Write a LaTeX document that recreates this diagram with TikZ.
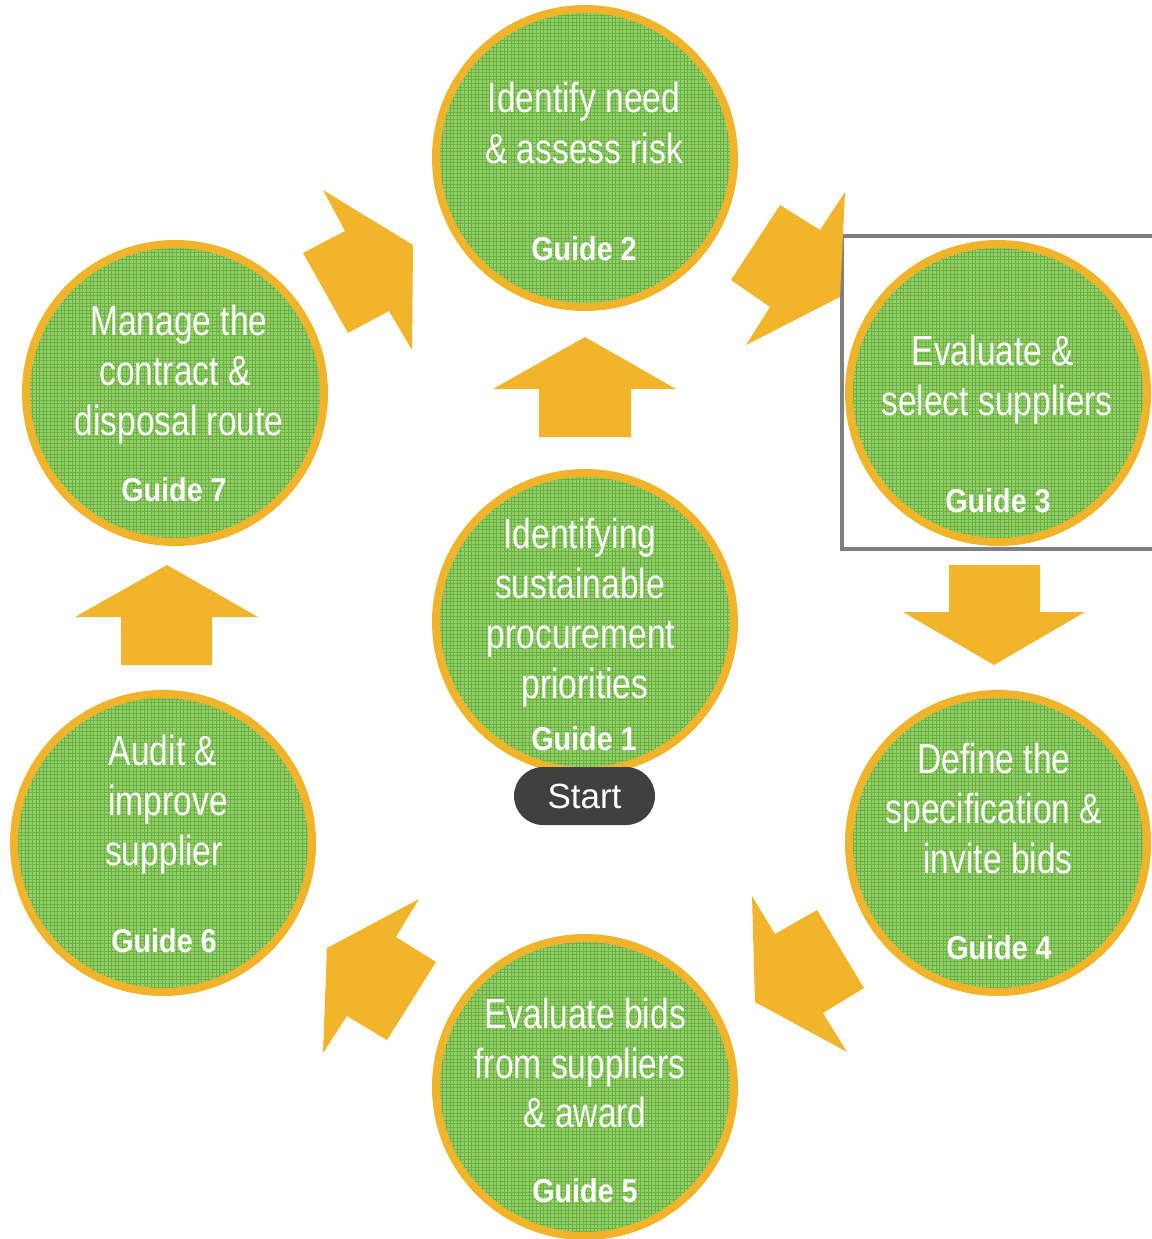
\documentclass[tikz,border=0pt]{standalone}
\usepackage{fontspec}
\usetikzlibrary{patterns.meta}
\newfontfamily\narrowfont[FakeStretch=0.80]{Liberation Sans}
\newfontfamily\guidefont[FakeStretch=0.87]{Liberation Sans}
\newfontfamily\pillfont{Liberation Sans}
\definecolor{ringc}{RGB}{240,179,41}
\definecolor{arrowc}{RGB}{241,180,42}
\definecolor{gbase}{RGB}{150,206,110}
\definecolor{gline}{RGB}{102,178,62}
\definecolor{framec}{RGB}{128,128,128}
\definecolor{pillc}{RGB}{64,64,64}
\tikzset{
  stage/.style={circle, minimum size=298pt, inner sep=0pt, draw=ringc, line width=8pt,
    preaction={fill=gbase},
    pattern={Hatch[distance=3.6pt,angle=0,line width=0.9pt]}, pattern color=gline},
  txt/.style={anchor=base, text=white, inner sep=0pt, font=\narrowfont\fontsize{42}{50}\selectfont},
  guide/.style={anchor=base, text=white, inner sep=0pt, font=\guidefont\bfseries\fontsize{33}{38}\selectfont},
  blockarrow/.style={fill=arrowc},
  startpill/.style={fill=pillc, rounded corners=29pt, minimum width=141pt, minimum height=58pt,
    inner sep=0pt, text=white, font=\pillfont\fontsize{35}{42}\selectfont},
  framebox/.style={draw=framec, line width=4pt}
}
\begin{document}
\begin{tikzpicture}[x=1pt,y=-1pt]
\useasboundingbox[fill=white] (0,0) rectangle (1151,1239);

% highlight frame around Guide 3
\draw[framebox] (1170,236) -- (842,236) -- (842,549) -- (1170,549);

% block arrows
\fill[blockarrow] (323,190) -- (345,231) -- (303,253) -- (348,333) -- (389,311) -- (412,350) -- (413,245) -- cycle;
\fill[blockarrow] (780,205) -- (820,230) -- (845,192) -- (840,297) -- (746,345) -- (770,307) -- (731,280) -- cycle;
\fill[blockarrow] (752,896) -- (775,934) -- (817,910) -- (864,988) -- (823,1013) -- (847,1052) -- (755,1002) -- cycle;
\fill[blockarrow] (419,899) -- (396,937) -- (436,962) -- (387,1040) -- (347,1016) -- (323,1053) -- (327,948) -- cycle;
\fill[blockarrow] (539,437) -- (539,389) -- (493,389) -- (585,337) -- (676,389) -- (631,389) -- (631,437) -- cycle;
\fill[blockarrow] (121,665) -- (121,617) -- (75,617) -- (167,565) -- (258,617) -- (212,617) -- (212,665) -- cycle;
\fill[blockarrow] (949,565) -- (1040,565) -- (1040,612) -- (1085,612) -- (994,665) -- (903,612) -- (949,612) -- cycle;

% stage circles
\node[stage] (g2) at (585,158) {};
\node[stage] (g3) at (998,393) {};
\node[stage] (g7) at (175,393) {};
\node[stage] (g1) at (585,622) {};
\node[stage] (g6) at (163,843) {};
\node[stage] (g4) at (998,843) {};
\node[stage] (g5) at (585,1087) {};

% Guide 2
\node[txt] (g2a) at (584,112) {Identify need};
\node[txt] (g2b) at (584,163) {\& assess risk};
\node[guide] (g2g) at (584,260) {Guide 2};
% Guide 3
\node[txt] (g3a) at (993,365) {Evaluate \&};
\node[txt] (g3b) at (997,415) {select suppliers};
\node[guide] (g3g) at (998,512) {Guide 3};
% Guide 7
\node[txt] (g7a) at (179,335) {Manage the};
\node[txt] (g7b) at (175,385) {contract \&};
\node[txt] (g7c) at (179,435) {disposal route};
\node[guide] (g7g) at (174,501) {Guide 7};
% Guide 1
\node[txt] (g1a) at (580,548) {Identifying};
\node[txt] (g1b) at (580,598) {sustainable};
\node[txt] (g1c) at (581,648) {procurement};
\node[txt] (g1d) at (585,698) {priorities};
\node[guide] (g1g) at (584,750) {Guide 1};
% Guide 6
\node[txt] (g6a) at (163,765) {Audit \&};
\node[txt] (g6b) at (168,815) {improve};
\node[txt] (g6c) at (164,865) {supplier};
\node[guide] (g6g) at (164,952) {Guide 6};
% Guide 4
\node[txt] (g4a) at (994,773) {Define the};
\node[txt] (g4b) at (994,823) {specification \&};
\node[txt] (g4c) at (998,873) {invite bids};
\node[guide] (g4g) at (999,959) {Guide 4};
% Guide 5
\node[txt] (g5a) at (585,1028) {Evaluate bids};
\node[txt] (g5b) at (580,1078) {from suppliers};
\node[txt] (g5c) at (585,1127) {\& award};
\node[guide] (g5g) at (585,1202) {Guide 5};

% start label
\node[startpill] (start) at (584.5,796) {Start};
\end{tikzpicture}
\end{document}
